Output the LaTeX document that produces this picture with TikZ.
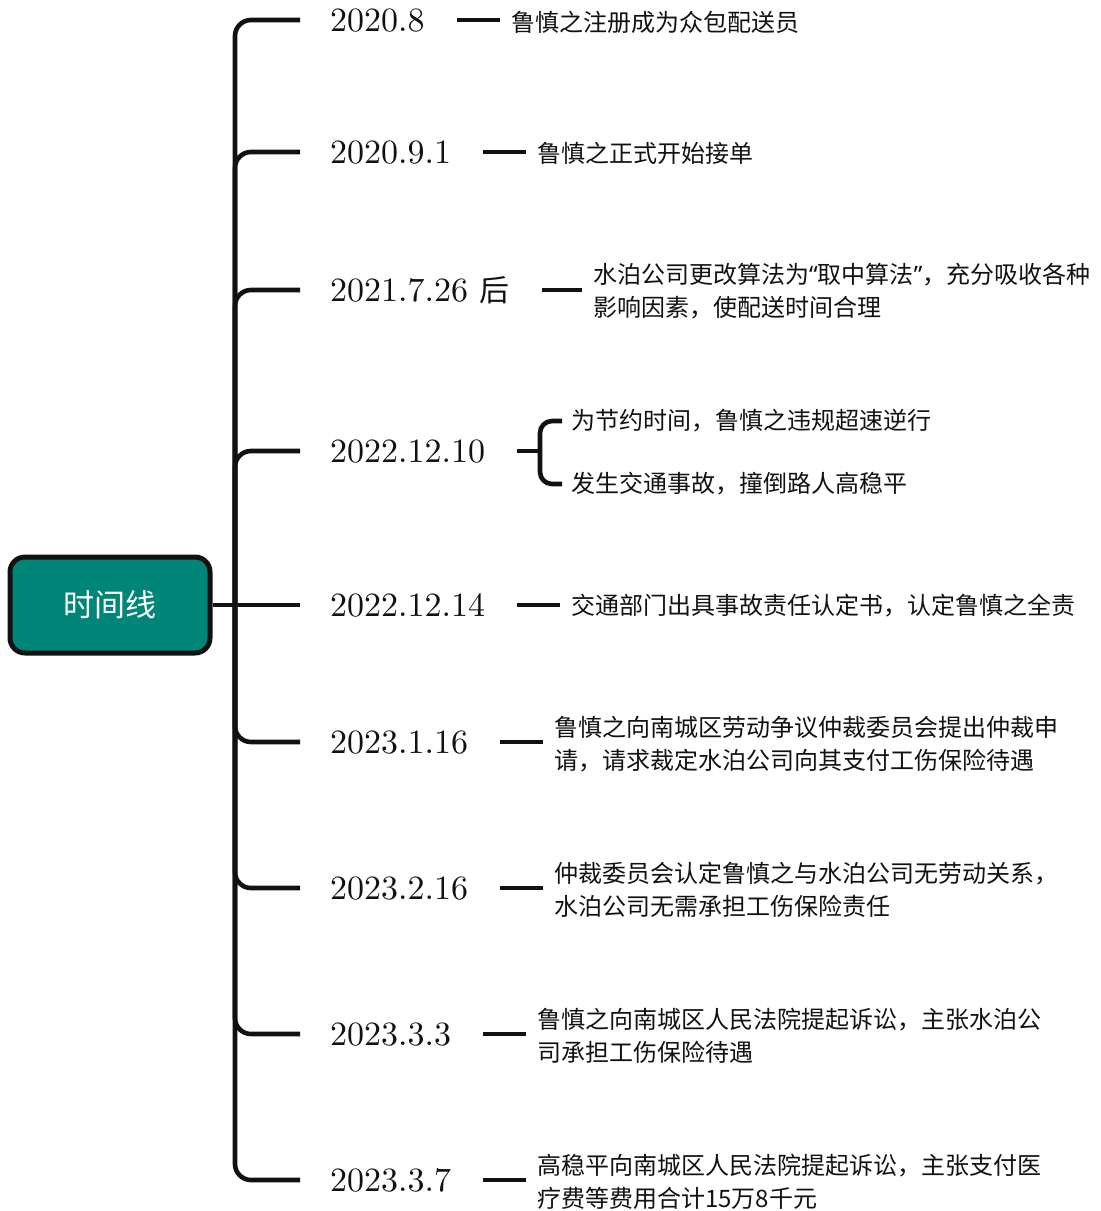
\documentclass[tikz,border=0pt]{standalone}
\usepackage{fontspec}
\newfontfamily\cjk{Noto Sans CJK SC}
\newfontfamily\datefont[Extension=.otf]{lmroman10-regular}
\newfontfamily\quotefont{Noto Sans}
\definecolor{rootteal}{RGB}{0,134,120}
\definecolor{ink}{RGB}{17,17,17}
\begin{document}
\begin{tikzpicture}[x=1pt,y=-1pt,
  line/.style={line width=4.6pt, draw=ink},
  dashline/.style={line width=4.6pt, draw=ink, shorten <=32pt, shorten >=11pt},
  datebox/.style={anchor=west, inner sep=0pt, text=ink, font=\datefont\fontsize{34}{40}\selectfont, text height=22pt, text depth=0pt},
  descbox/.style={anchor=west, inner sep=0pt, align=left, text=ink, font=\cjk\fontsize{24}{33}\selectfont},
  rootbox/.style={draw=ink, line width=5pt, fill=rootteal, rounded corners=15pt, minimum width=200pt, minimum height=96pt, text=white, font=\cjk\fontsize{31}{31}\selectfont}]
\useasboundingbox (0,0) rectangle (1101,1211);

\node[rootbox] (root) at (110,605) {时间线};
\coordinate (hub) at (235,605);

% dates
\node[datebox] (d1) at (330,20) {2020.8};
\node[datebox] (d2) at (330,152) {2020.9.1};
\node[datebox] (d3) at (330,290) {2021.7.26 {\cjk\fontsize{30}{30}\selectfont 后}};
\node[datebox] (d4) at (330,451) {2022.12.10};
\node[datebox] (d5) at (330,605) {2022.12.14};
\node[datebox] (d6) at (330,742) {2023.1.16};
\node[datebox] (d7) at (330,888) {2023.2.16};
\node[datebox] (d8) at (330,1034) {2023.3.3};
\node[datebox] (d9) at (330,1180) {2023.3.7};

% descriptions
\node[descbox] (t1) at (511,22) {鲁慎之注册成为众包配送员};
\node[descbox] (t2) at (537,153) {鲁慎之正式开始接单};
\node[descbox] (t3) at (593,291) {水泊公司更改算法为{\quotefont“}取中算法{\quotefont”}，充分吸收各种\\影响因素，使配送时间合理};
\node[descbox] (t4a) at (571,421) {为节约时间，鲁慎之违规超速逆行};
\node[descbox] (t4b) at (571,484) {发生交通事故，撞倒路人高稳平};
\node[descbox] (t5) at (571,606) {交通部门出具事故责任认定书，认定鲁慎之全责};
\node[descbox] (t6) at (554,744) {鲁慎之向南城区劳动争议仲裁委员会提出仲裁申\\请，请求裁定水泊公司向其支付工伤保险待遇};
\node[descbox] (t7) at (554,890) {仲裁委员会认定鲁慎之与水泊公司无劳动关系，\\水泊公司无需承担工伤保险责任};
\node[descbox] (t8) at (537,1036) {鲁慎之向南城区人民法院提起诉讼，主张水泊公\\司承担工伤保险待遇};
\node[descbox] (t9) at (537,1182) {高稳平向南城区人民法院提起诉讼，主张支付医\\疗费等费用合计15万8千元};

% trunk and branches
\foreach \i in {1,2,3,4,6,7,8,9}
  \draw[line, rounded corners=16pt, shorten >=30pt] (hub) |- (d\i.west);
\draw[line, shorten >=30pt] (root.east) -- (d5.west);

% dashes
\foreach \i in {1,2,3,5,6,7,8,9}
  \draw[dashline] (d\i.east) -- (d\i.east -| t\i.west);

% brace
\coordinate (br) at (540,451);
\draw[line, shorten <=32pt] (d4.east) -- (br);
\draw[line, rounded corners=12pt] ([xshift=-9pt]t4a.west) -| (br) |- ([xshift=-9pt]t4b.west);
\end{tikzpicture}
\end{document}
